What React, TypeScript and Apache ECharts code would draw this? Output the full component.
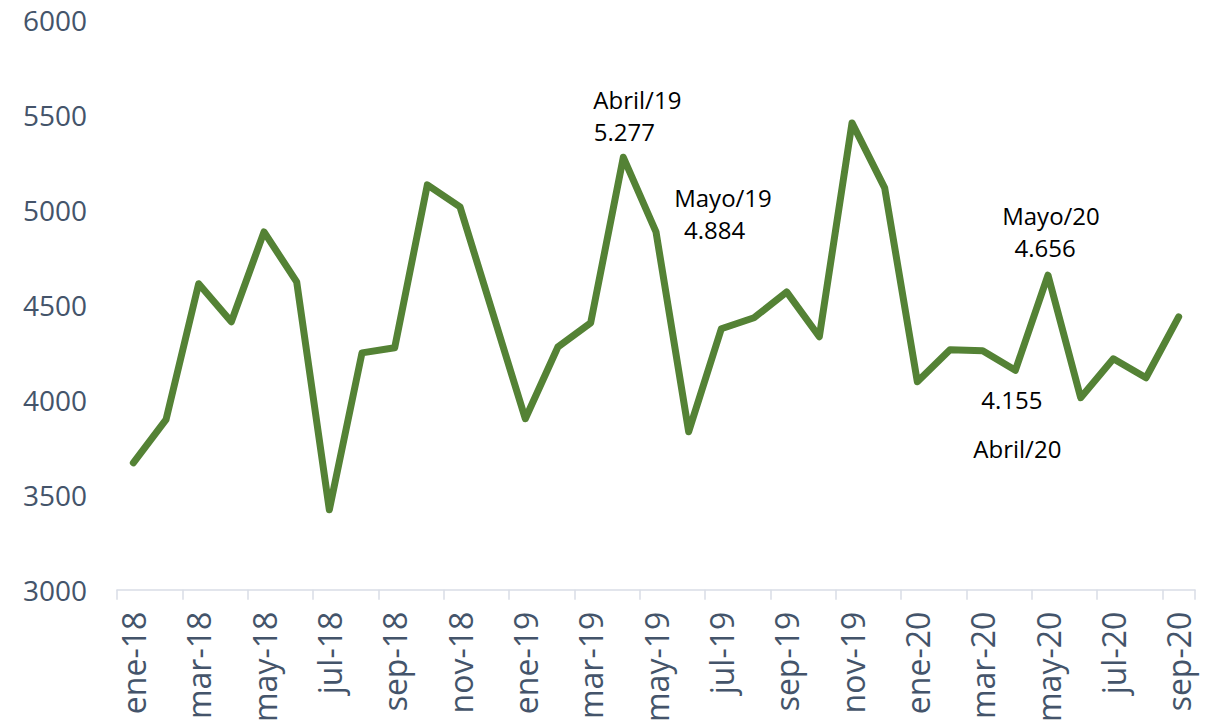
import React, { useEffect, useRef } from "react";
import * as echarts from "echarts";

const categories = [
  "ene-18", "feb-18", "mar-18", "abr-18", "may-18", "jun-18", "jul-18", "ago-18", "sep-18", "oct-18", "nov-18", "dic-18",
  "ene-19", "feb-19", "mar-19", "abr-19", "may-19", "jun-19", "jul-19", "ago-19", "sep-19", "oct-19", "nov-19", "dic-19",
  "ene-20", "feb-20", "mar-20", "abr-20", "may-20", "jun-20", "jul-20", "ago-20", "sep-20",
];

const values = [
  3668, 3895, 4611, 4411, 4884, 4621, 3421, 4247, 4274, 5132, 5016, 4458,
  3900, 4279, 4405, 5277, 4884, 3832, 4374, 4432, 4568, 4332, 5458, 5116,
  4095, 4263, 4258, 4155, 4656, 4011, 4216, 4116, 4437,
];

const yTicks = { min: 3000, max: 6000, interval: 500 };

// annotations: index, first line, second line
const annotations = [
  { idx: 15, top: "Abril/19", bottom: "5.277" },
  { idx: 16, top: "Mayo/19", bottom: "4.884" },
  { idx: 28, top: "Mayo/20", bottom: "4.656" },
  { idx: 27, top: "4.155", bottom: "Abril/20" },
];

const annotationStyle: Record<number, any> = {
  15: { offset: [14, -42], padTop: [0, 0, 0, 0], padBottom: [0, 26, 0, 0], lh: 32 },
  16: { offset: [67, -18], padTop: [0, 0, 0, 0], padBottom: [0, 17, 0, 0], lh: 32 },
  28: { offset: [3, -44], padTop: [0, 0, 0, 0], padBottom: [0, 12, 0, 0], lh: 32 },
  27: { offset: [2, 54], padTop: [0, 11, 0, 0], padBottom: [0, 0, 0, 0], lh: 49 },
};

export default function App() {
  const ref = useRef<HTMLDivElement>(null);

  useEffect(() => {
    if (!ref.current) return;
    const chart = echarts.init(ref.current, undefined, { renderer: "svg" });

    const data = values.map((v, i) => {
      const ann = annotations.find((a) => a.idx === i);
      if (!ann) return v;
      const st = annotationStyle[i];
      return {
        value: v,
        label: {
          show: true,
          position: "inside",
          offset: st.offset,
          align: "center",
          verticalAlign: "middle",
          formatter: `{t|${ann.top}}\n{b|${ann.bottom}}`,
          rich: {
            t: {
              fontFamily: "Open Sans",
              fontSize: 24,
              color: "#000000",
              lineHeight: st.lh,
              padding: st.padTop,
            },
            b: {
              fontFamily: "Open Sans",
              fontSize: 24,
              color: "#000000",
              lineHeight: st.lh,
              padding: st.padBottom,
            },
          },
        },
      };
    });

    chart.setOption({
      animation: false,
      grid: { left: 117, right: 21, top: 20, bottom: 135, containLabel: false },
      xAxis: {
        type: "category",
        data: categories,
        boundaryGap: true,
        axisLine: { show: true, lineStyle: { color: "#d9dde6", width: 1.5 } },
        axisTick: { show: true, interval: 1, length: 10, lineStyle: { color: "#d9dde6", width: 1.5 } },
        axisLabel: {
          interval: 1,
          rotate: 90,
          margin: 22,
          fontFamily: "Open Sans",
          fontSize: 32,
          color: "#44546a",
        },
        splitLine: { show: false },
      },
      yAxis: {
        type: "value",
        min: yTicks.min,
        max: yTicks.max,
        interval: yTicks.interval,
        axisLine: { show: false },
        axisTick: { show: false },
        splitLine: { show: false },
        axisLabel: {
          margin: 30,
          fontFamily: "Open Sans",
          fontSize: 28,
          color: "#44546a",
          formatter: (v: number) => String(v),
        },
      },
      series: [
        {
          type: "line",
          data,
          showSymbol: true,
          symbol: "circle",
          symbolSize: 2,
          itemStyle: { color: "#548235" },
          lineStyle: { color: "#548235", width: 7, join: "round", cap: "round" },
          label: { show: false },
          emphasis: { disabled: true },
        },
      ],
    });

    return () => chart.dispose();
  }, []);

  return <div ref={ref} style={{ width: 1216, height: 725, position: "absolute", left: 0, top: 0 }} />;
}
